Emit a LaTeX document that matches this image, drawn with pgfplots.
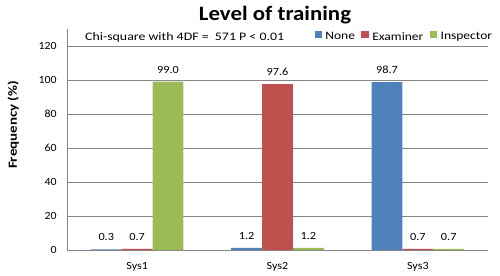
\documentclass[border=0pt]{standalone}
\usepackage{pgfplots}
\pgfplotsset{compat=1.18}
\usepackage{fontspec}
\setmainfont{Carlito}
\definecolor{cNone}{HTML}{4F81BD}
\definecolor{cExam}{HTML}{C0504D}
\definecolor{cInsp}{HTML}{9BBB59}
\definecolor{gridc}{HTML}{868686}
\begin{document}
\begin{tikzpicture}
\path[use as bounding box] (-67bp,-26bp) rectangle (433bp,250bp);
\begin{axis}[
  at={(0,0)}, anchor=south west,
  scale only axis, width=421bp, height=221bp,
  clip=false,
  ybar, bar width=0.22,
  xmin=-0.5, xmax=2.5, ymin=0, ymax=130,
  ytick={0,20,...,120},
  xtick={0,1,2}, xticklabels={Sys1,Sys2,Sys3},
  extra x ticks={-0.5,0.5,1.5,2.5}, extra x tick labels={},
  extra x tick style={major tick length=4bp, tick style={gridc}, tick pos=left},
  major x tick style={draw=none},
  axis lines*=left,
  axis line style={gridc},
  ymajorgrids, grid style={gridc},
  major tick length=4bp,
  tick style={gridc},
  y tick label style={font=\fontsize{11}{13}\selectfont, xscale=1.08, xshift=-6bp, /pgf/number format/assume math mode=true},
  x tick label style={font=\fontsize{11}{13}\selectfont, xscale=1.1},
  xticklabel style={yshift=-5bp},
  nodes near coords,
  every node near coord/.append style={font=\fontsize{11}{13}\selectfont, xscale=1.12, yshift=5bp, /pgf/number format/.cd, fixed, fixed zerofill, precision=1, assume math mode=true},
  legend style={draw=none, fill=none, font=\fontsize{11.5}{13}\selectfont, legend columns=3,
     at={(1.016,0.964)}, anchor=east, inner sep=0pt,
     /tikz/every odd column/.append style={column sep=1bp},
     /tikz/every even column/.append style={column sep=4bp}},
  legend image code/.code={\fill[#1] (0bp,-0.6bp) rectangle (7.5bp,6.2bp);},
  legend cell align=left,
]
\addplot[fill=cNone, draw=none, bar shift=-0.22] coordinates {(0,0.3) (1,1.2) (2,98.7)};
\addlegendentry[xscale=1.18]{None}
\addplot[fill=cExam, draw=none, bar shift=0] coordinates {(0,0.7) (1,97.6) (2,0.7)};
\addlegendentry[xscale=1.18]{Examiner}
\addplot[fill=cInsp, draw=none, bar shift=0.22] coordinates {(0,99.0) (1,1.2) (2,0.7)};
\addlegendentry[xscale=1.18]{Inspector}
\node[font=\fontsize{20.5}{22}\selectfont\bfseries, xscale=1.12] at (rel axis cs:0.494,1.063) {Level of training};
\node[font=\fontsize{11.5}{13}\selectfont, xscale=1.21, anchor=west, inner sep=0pt] at (axis cs:-0.372,125.3) {Chi-square with 4DF = \ 571 P < 0.01};
\node[font=\fontsize{12.5}{14}\selectfont\bfseries, rotate=90, xscale=1.2, inner sep=0pt] at (rel axis cs:-0.128,0.566) {Frequency (\%)};
\end{axis}
\end{tikzpicture}
\end{document}
